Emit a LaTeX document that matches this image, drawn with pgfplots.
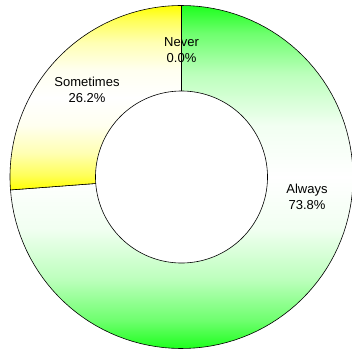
\documentclass[border=0pt]{standalone}
\usepackage{fontspec}
\setmainfont{Liberation Sans}
\usepackage{pgfplots}
\usepackage{pgfplotstable}
\pgfplotsset{compat=1.18}
\definecolor{cA}{RGB}{30,255,30}
\definecolor{cS}{RGB}{255,255,0}
\pgfdeclareverticalshading{shadeA}{100bp}{color(0bp)=(cA); color(25bp)=(cA); color(29bp)=(cA!65!white); color(35bp)=(cA!30!white); color(42.5bp)=(cA!6!white); color(50bp)=(white); color(57.5bp)=(cA!6!white); color(65bp)=(cA!30!white); color(71bp)=(cA!65!white); color(75bp)=(cA); color(100bp)=(cA)}
\pgfdeclareverticalshading{shadeS}{100bp}{color(0bp)=(cS); color(25bp)=(cS); color(29bp)=(cS!65!white); color(35bp)=(cS!30!white); color(42.5bp)=(cS!6!white); color(50bp)=(white); color(57.5bp)=(cS!6!white); color(65bp)=(cS!30!white); color(71bp)=(cS!65!white); color(75bp)=(cS); color(100bp)=(cS)}
\pgfplotstableread{
label value
Always 73.8
Sometimes 26.2
Never 0.0
}\piedata
\begin{document}
\begin{tikzpicture}
\pgfplotstablegetelem{0}{value}\of\piedata \let\vA\pgfplotsretval
\pgfplotstablegetelem{1}{value}\of\piedata \let\vS\pgfplotsretval
\pgfplotstablegetelem{2}{value}\of\piedata \let\vN\pgfplotsretval
\pgfmathsetmacro{\aA}{90}
\pgfmathsetmacro{\bA}{90-3.6*\vA}
\pgfmathsetmacro{\aS}{\bA}
\pgfmathsetmacro{\bS}{\bA-3.6*\vS}
\pgfmathsetmacro{\aN}{\bS}
\pgfmathsetmacro{\bN}{\bS-3.6*\vN}
\def\cx{181.5}\def\cy{172}\def\Ro{171.5}\def\Ri{86}
\useasboundingbox (0,0) rectangle (352pt,349pt);
\begin{axis}[at={(0,0)}, anchor=south west, scale only axis,
  width=352pt, height=349pt, xmin=0, xmax=352, ymin=0, ymax=349,
  hide axis, clip=true]
% Always
\addplot[draw=black, line width=0.6pt, shading=shadeA,
  samples at={-1,0,1,...,100,101}, variable=\t]
  ({\cx + ((\t>=0)&&(\t<=100))*\Ro*cos(\aA+(\bA-\aA)*max(0,min(100,\t))/100)},
   {\cy + ((\t>=0)&&(\t<=100))*\Ro*sin(\aA+(\bA-\aA)*max(0,min(100,\t))/100)}) -- cycle;
% Sometimes
\addplot[draw=black, line width=0.6pt, shading=shadeS,
  samples at={-1,0,1,...,100,101}, variable=\t]
  ({\cx + ((\t>=0)&&(\t<=100))*\Ro*cos(\aS+(\bS-\aS)*max(0,min(100,\t))/100)},
   {\cy + ((\t>=0)&&(\t<=100))*\Ro*sin(\aS+(\bS-\aS)*max(0,min(100,\t))/100)}) -- cycle;
% Never
\addplot[draw=black, line width=0.6pt,
  samples at={-1,0,1,...,100,101}, variable=\t]
  ({\cx + ((\t>=0)&&(\t<=100))*\Ro*cos(\aN+(\bN-\aN)*max(0,min(100,\t))/100)},
   {\cy + ((\t>=0)&&(\t<=100))*\Ro*sin(\aN+(\bN-\aN)*max(0,min(100,\t))/100)}) -- cycle;
% hole
\addplot[draw=black, line width=0.6pt, fill=white, domain=0:360, samples=181]
  ({\cx+\Ri*cos(x)},{\cy+\Ri*sin(x)}) -- cycle;
\node[align=center, font=\fontsize{13}{16}\selectfont] at (axis cs:181.5,299) {Never\\0.0\%};
\node[align=center, font=\fontsize{13}{16}\selectfont] at (axis cs:87,259) {Sometimes\\26.2\%};
\node[align=center, font=\fontsize{13}{16}\selectfont] at (axis cs:307,152.5) {Always\\73.8\%};
\end{axis}
\end{tikzpicture}
\end{document}
